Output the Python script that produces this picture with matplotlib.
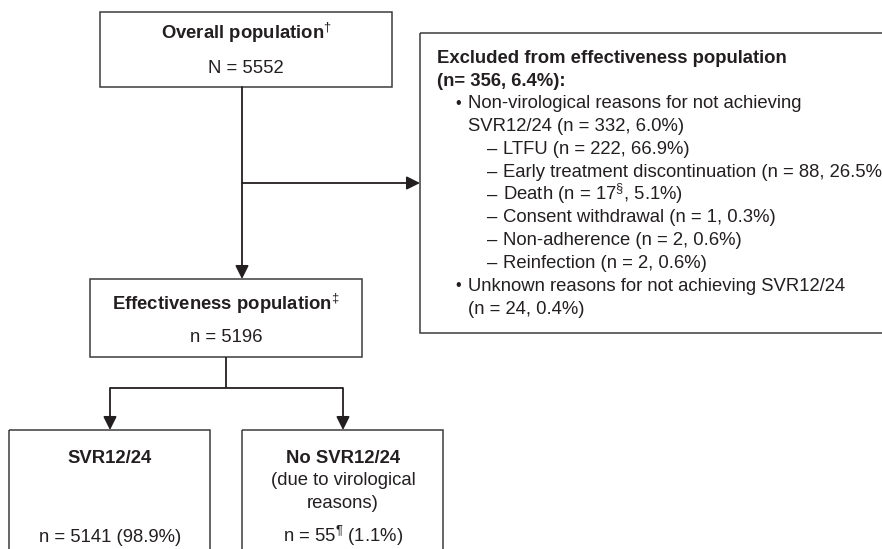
#!/usr/bin/env python3
# Patient flow chart: overall -> effectiveness population -> SVR outcome

import matplotlib
matplotlib.use("Agg")
import matplotlib.pyplot as plt
from matplotlib.patches import Rectangle

plt.rcParams['font.family'] = ['Liberation Sans', 'DejaVu Sans']
plt.rcParams['mathtext.fontset'] = 'custom'
plt.rcParams['mathtext.rm'] = 'Liberation Sans'
plt.rcParams['mathtext.it'] = 'Liberation Sans:italic'
plt.rcParams['mathtext.bf'] = 'Liberation Sans:bold'

# Counts shown in the chart
overall_n = 5552
effective_n = 5196
excluded_n, excluded_pct = 356, 6.4
nonviro_n, nonviro_pct = 332, 6.0
reason_labels = ["LTFU", "Early treatment discontinuation", "Death",
                 "Consent withdrawal", "Non-adherence", "Reinfection"]
reason_n = [222, 88, 17, 1, 2, 2]
reason_pct = [66.9, 26.5, 5.1, 0.3, 0.6, 0.6]
reason_mark = ["", "", "§", "", "", ""]
unknown_n, unknown_pct = 24, 0.4
svr_n, svr_pct = 5141, 98.9
nosvr_n, nosvr_pct = 55, 1.1

FS = 13.3
EDGE = '#3c3c3c'
INK = '#231f20'

fig = plt.figure(figsize=(8.82, 5.49), dpi=100)
ax = fig.add_axes([0, 0, 1, 1])
ax.set_xlim(0, 882)
ax.set_ylim(549, 0)
ax.axis('off')


def box(x0, y0, x1, y1):
    ax.add_patch(Rectangle((x0, y0), x1 - x0, y1 - y0, fill=False,
                           edgecolor=EDGE, lw=1.1))


def arrow(p0, p1):
    ax.annotate("", xy=p1, xytext=p0,
                arrowprops=dict(arrowstyle='-|>', lw=1.3, color=INK,
                                mutation_scale=20, shrinkA=0, shrinkB=0))


def line(xs, ys):
    ax.plot(xs, ys, color=INK, lw=1.3, solid_capstyle='butt')


def txt(x, y, s, bold=False, ha='center', size=FS):
    ax.text(x, y, s, fontsize=size, ha=ha, va='baseline', color=INK,
            fontweight='bold' if bold else 'normal')


def sup(ch):
    return r"$^{\mathrm{" + ch + "}}$"


# boxes
box(100, 12, 392, 87)
box(420, 33, 900, 333)
box(90, 279, 362, 357)
box(9, 430, 210, 560)
box(242, 430, 443, 560)

# connectors
arrow((242, 87), (242, 279))
arrow((242, 183), (420, 183))
line([226, 226], [357, 388])
line([110, 343], [388, 388])
arrow((110, 388), (110, 430))
arrow((343, 388), (343, 430))

# overall
txt(246, 39, "Overall population" + sup("†"), bold=True)
txt(246, 73, f"N = {overall_n}")

# effectiveness
txt(226, 310, "Effectiveness population" + sup("‡"), bold=True)
txt(226, 342, f"n = {effective_n}")

# outcomes
txt(110, 463, "SVR12/24", bold=True)
txt(110, 542, f"n = {svr_n} ({svr_pct}%)")
txt(343, 463, "No SVR12/24", bold=True)
txt(343, 485, "(due to virological")
txt(343, 508, "reasons)")
txt(343, 542, f"n = {nosvr_n}" + sup("¶") + f" ({nosvr_pct}%)")

# excluded list
step = 22.8
y = 62.7
txt(437, y, "Excluded from effectiveness population", bold=True, ha='left')
y += step
txt(437, y, f"(n= {excluded_n}, {excluded_pct}%):", bold=True, ha='left')
y += step
txt(455, y - 0.5, "•", ha='left', size=11.5)
txt(468, y, "Non-virological reasons for not achieving", ha='left')
y += step
txt(468, y, f"SVR12/24 (n = {nonviro_n}, {nonviro_pct}%)", ha='left')
for lab, n, p, m in zip(reason_labels, reason_n, reason_pct, reason_mark):
    y += step
    txt(487, y, "–", ha='left')
    s = f"{lab} (n = {n}" + (sup(m) if m else "") + f", {p}%)"
    txt(503, y, s, ha='left')
y += step
txt(455, y - 0.5, "•", ha='left', size=11.5)
txt(468, y, "Unknown reasons for not achieving SVR12/24", ha='left')
y += step
txt(468, y, f"(n = {unknown_n}, {unknown_pct}%)", ha='left')

fig.savefig("out.png", dpi=100)
